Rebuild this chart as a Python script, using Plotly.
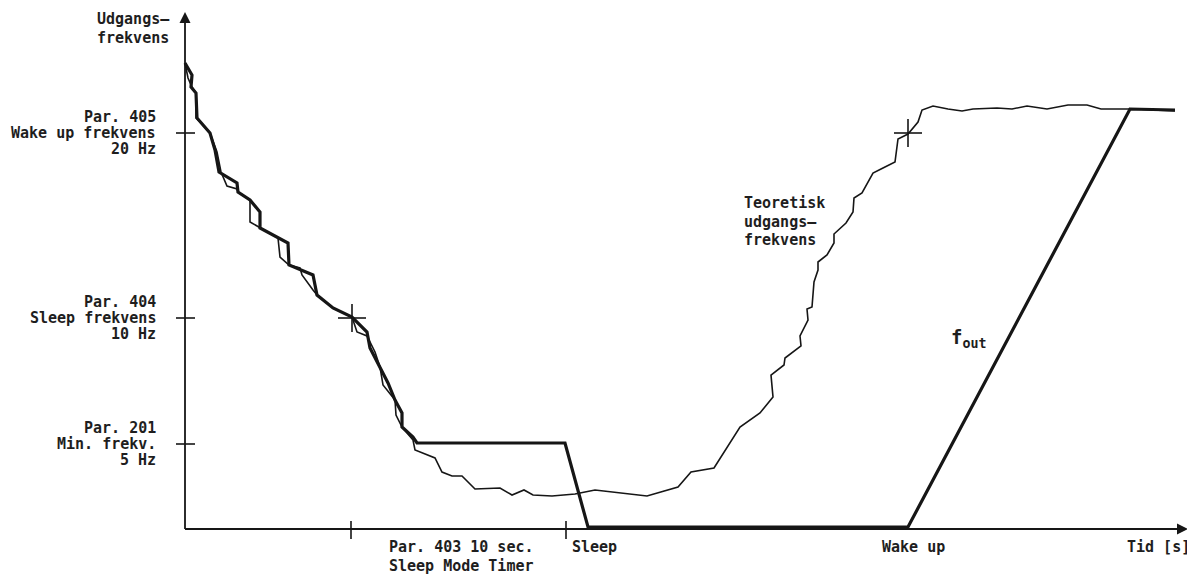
import plotly.graph_objects as go

# Drawing units: x = time (schematic units from origin), y = output frequency (schematic units above the time axis)
fout_x = [0, 7, 6, 11, 12, 25, 30, 34, 52, 53, 65, 75, 75, 93, 103, 104, 117, 128, 132, 148, 167, 182, 185, 195, 203, 210, 217, 217, 228, 232, 380, 403, 723, 945, 990]
fout_y = [466, 454, 442, 436, 411, 396, 379, 357, 346, 337, 329, 317, 301, 291, 286, 264, 259, 254, 234, 221, 212, 197, 181, 162, 146, 129, 116, 102, 92, 86, 86, 2, 2, 420, 419]

theory_points = [
    (0, 466), (3, 451), (7, 442), (11, 436), (11, 411), (25, 396), (32, 377), (36, 357),
    (42, 343), (52, 340), (53, 337), (65, 329), (65, 307), (75, 301), (93, 291), (95, 272),
    (104, 264), (115, 261), (117, 254), (128, 239), (132, 234), (148, 221), (167, 212),
    (172, 197), (182, 193), (190, 177), (195, 162), (198, 144), (210, 129), (211, 114),
    (217, 102), (228, 89), (230, 79), (250, 71), (257, 57), (267, 53), (277, 53), (290, 40),
    (315, 41), (327, 34), (339, 39), (348, 34), (367, 33), (390, 35), (410, 39), (462, 33),
    (493, 42), (506, 57), (529, 61), (555, 102), (575, 116), (588, 132), (586, 154),
    (599, 164), (600, 171), (616, 183), (615, 193), (623, 209), (622, 220), (627, 222),
    (629, 247), (633, 259), (633, 267), (642, 274), (649, 286), (649, 295), (661, 306),
    (668, 317), (669, 331), (677, 336), (688, 356), (698, 361), (710, 367), (713, 390),
    (723, 395), (733, 407), (737, 419), (748, 423), (763, 420), (777, 418), (788, 420),
    (812, 421), (827, 420), (842, 423), (862, 420), (883, 424), (902, 424), (916, 420),
    (945, 420), (990, 418),
]
theory_x = [p[0] for p in theory_points]
theory_y = [p[1] for p in theory_points]

# Axis extents (tips of the arrows)
x_axis_end = 1003
y_axis_end = 517

# Frequency marks on the vertical axis
y_ticks = [396, 211, 85]
y_tick_labels = [
    ["Par. 405", "Wake up frekvens", "20 Hz"],
    ["Par. 404", "Sleep frekvens", "10 Hz"],
    ["Par. 201", "Min. frekv.", "5 Hz"],
]
# Time marks on the horizontal axis
x_ticks = [166, 381]
x_labels = [(202, ["Par. 403 10 sec.", "Sleep Mode Timer"]), (385, ["Sleep"]), (695, ["Wake up"]), (940, ["Tid [s]"])]
# Crossing points marked with "+"
cross_x = [167, 723]
cross_y = [211, 396]

INK = "#161616"
FONT = dict(family="DejaVu Sans Mono", size=15, color="#1e1e1e")

fig = go.Figure()

# axes
fig.add_trace(go.Scatter(x=[0, 0, None, 0, x_axis_end - 4], y=[y_axis_end - 4, 0, None, 0, 0],
                         mode="lines", line=dict(color=INK, width=1.8),
                         hoverinfo="skip", showlegend=False))
fig.add_trace(go.Scatter(x=[0], y=[y_axis_end], mode="markers",
                         marker=dict(symbol="arrow-up", size=11, color=INK, line=dict(width=0)),
                         hoverinfo="skip", showlegend=False, cliponaxis=False))
fig.add_trace(go.Scatter(x=[x_axis_end], y=[0], mode="markers",
                         marker=dict(symbol="arrow-right", size=11, color=INK, line=dict(width=0)),
                         hoverinfo="skip", showlegend=False, cliponaxis=False))

fig.add_trace(go.Scatter(x=theory_x, y=theory_y, mode="lines",
                         line=dict(color=INK, width=1.6), hoverinfo="skip", showlegend=False))
fig.add_trace(go.Scatter(x=fout_x, y=fout_y, mode="lines",
                         line=dict(color=INK, width=3.2), hoverinfo="skip", showlegend=False))

# tick marks
tx, ty = [], []
for v in y_ticks:
    tx += [-9, 10, None]
    ty += [v, v, None]
for v in x_ticks:
    tx += [v, v, None]
    ty += [-10, 8, None]
for cx, cy in zip(cross_x, cross_y):
    tx += [cx - 14, cx + 14, None, cx, cx, None]
    ty += [cy, cy, None, cy - 14, cy + 14, None]
fig.add_trace(go.Scatter(x=tx, y=ty, mode="lines", line=dict(color=INK, width=1.6),
                         hoverinfo="skip", showlegend=False))

ann = []

def label(x, y, t, xanchor, size=15):
    ann.append(dict(x=x, y=y, xref="x", yref="y", text="<b>" + t + "</b>", showarrow=False,
                    xanchor=xanchor, yanchor="middle", font=dict(FONT, size=size)))

label(-90, 510, "Udgangs–", "left")
label(-90, 491, "frekvens", "left")
for v, lines in zip(y_ticks, y_tick_labels):
    for i, t in enumerate(lines):
        label(-27, v + 16 - 16 * i, t, "right")
for x0, lines in x_labels:
    for i, t in enumerate(lines):
        label(x0, -18 - 19 * i, t, "left")
for i, t in enumerate(["Teoretisk", "udgangs–", "frekvens"]):
    label(557, 326 - 18.5 * i, t, "left")
label(764, 191, "f<sub>out</sub>", "left", size=19)

fig.update_layout(
    width=1187, height=566,
    margin=dict(l=0, r=0, t=0, b=0),
    paper_bgcolor="white", plot_bgcolor="white",
    xaxis=dict(range=[-177, 1010], visible=False, fixedrange=True),
    yaxis=dict(range=[-45, 521], visible=False, fixedrange=True),
    annotations=ann,
    showlegend=False,
)

fig.write_html("out.html", config={"displayModeBar": False})
